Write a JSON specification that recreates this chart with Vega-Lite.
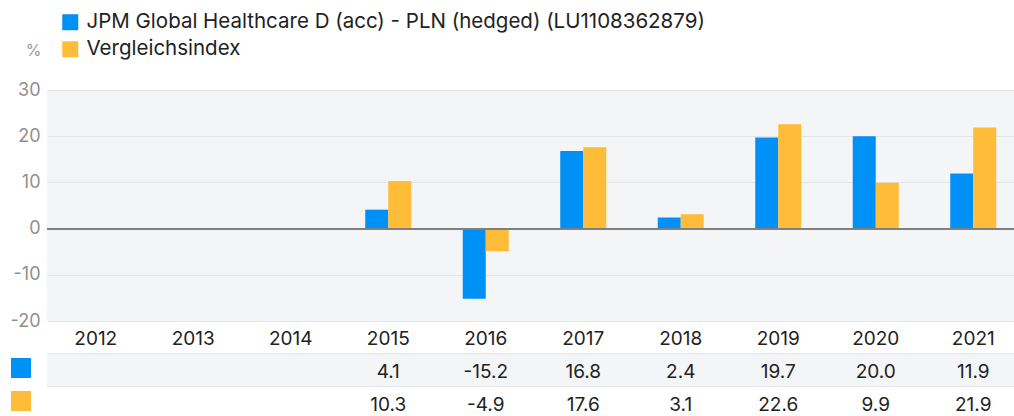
{
  "$schema": "https://vega.github.io/schema/vega-lite/v6.json",
  "autosize": {"type": "pad"},
  "padding": {"left": 9, "top": 12, "right": 0, "bottom": 0},
  "background": "white",
  "spacing": 0,
  "bounds": "flush",
  "config": {
    "font": "Inter",
    "view": {"stroke": null},
    "locale": {"number": {"decimal": ".", "thousands": ",", "grouping": [3], "currency": ["", ""], "minus": "-"}}
  },
  "datasets": {
    "returns": [
      {"year": 2012, "series": "JPM Global Healthcare D (acc) - PLN (hedged) (LU1108362879)", "value": null},
      {"year": 2012, "series": "Vergleichsindex", "value": null},
      {"year": 2013, "series": "JPM Global Healthcare D (acc) - PLN (hedged) (LU1108362879)", "value": null},
      {"year": 2013, "series": "Vergleichsindex", "value": null},
      {"year": 2014, "series": "JPM Global Healthcare D (acc) - PLN (hedged) (LU1108362879)", "value": null},
      {"year": 2014, "series": "Vergleichsindex", "value": null},
      {"year": 2015, "series": "JPM Global Healthcare D (acc) - PLN (hedged) (LU1108362879)", "value": 4.1},
      {"year": 2015, "series": "Vergleichsindex", "value": 10.3},
      {"year": 2016, "series": "JPM Global Healthcare D (acc) - PLN (hedged) (LU1108362879)", "value": -15.2},
      {"year": 2016, "series": "Vergleichsindex", "value": -4.9},
      {"year": 2017, "series": "JPM Global Healthcare D (acc) - PLN (hedged) (LU1108362879)", "value": 16.8},
      {"year": 2017, "series": "Vergleichsindex", "value": 17.6},
      {"year": 2018, "series": "JPM Global Healthcare D (acc) - PLN (hedged) (LU1108362879)", "value": 2.4},
      {"year": 2018, "series": "Vergleichsindex", "value": 3.1},
      {"year": 2019, "series": "JPM Global Healthcare D (acc) - PLN (hedged) (LU1108362879)", "value": 19.7},
      {"year": 2019, "series": "Vergleichsindex", "value": 22.6},
      {"year": 2020, "series": "JPM Global Healthcare D (acc) - PLN (hedged) (LU1108362879)", "value": 20.0},
      {"year": 2020, "series": "Vergleichsindex", "value": 9.9},
      {"year": 2021, "series": "JPM Global Healthcare D (acc) - PLN (hedged) (LU1108362879)", "value": 11.9},
      {"year": 2021, "series": "Vergleichsindex", "value": 21.9}
    ],
    "rows": [
      {"row": "JPM Global Healthcare D (acc) - PLN (hedged) (LU1108362879)"},
      {"row": "Vergleichsindex"}
    ]
  },
  "resolve": {"scale": {"color": "independent", "y": "independent"}, "legend": {"color": "independent"}},
  "vconcat": [
    {
      "width": 967,
      "height": 231,
      "data": {"name": "returns"},
      "view": {"fill": "#f4f5f7", "stroke": null},
      "layer": [
        {
          "mark": {"type": "bar"},
          "encoding": {
            "x": {"field": "year", "type": "ordinal", "scale": {"domain": [2012, 2013, 2014, 2015, 2016, 2017, 2018, 2019, 2020, 2021], "range": [0, 975], "paddingInner": 0.528, "paddingOuter": 0.264}, "axis": null},
            "xOffset": {"field": "series", "type": "nominal", "scale": {"domain": ["JPM Global Healthcare D (acc) - PLN (hedged) (LU1108362879)", "Vergleichsindex"]}},
            "y": {"field": "value", "type": "quantitative", "scale": {"domain": [-20, 30], "nice": false},
              "axis": {"values": [-20, -10, 0, 10, 20, 30], "title": "%", "titleAngle": 0, "titleX": -14, "titleY": -40, "titleAlign": "center", "titleBaseline": "middle", "titleFontSize": 16, "titleFontWeight": "normal", "titleColor": "#999999", "labelColor": "#8f8f8f", "labelFontSize": 18, "labelPadding": 7, "ticks": false, "domain": false, "gridColor": "#e3e5e8", "gridWidth": 1}},
            "color": {"field": "series", "type": "nominal",
              "scale": {"domain": ["JPM Global Healthcare D (acc) - PLN (hedged) (LU1108362879)", "Vergleichsindex"], "range": ["#0091f7", "#ffbc38"]},
              "legend": {"orient": "none", "legendX": 13, "legendY": -78, "title": null, "symbolType": "square", "symbolSize": 256, "symbolStrokeWidth": 0, "labelFontSize": 20.5, "labelColor": "#222222", "labelOffset": 6, "rowPadding": 6, "labelLimit": 900}}
          }
        },
        {"mark": {"type": "rule", "color": "#808080", "strokeWidth": 1.3}, "encoding": {"y": {"datum": 0}}}
      ]
    },
    {
      "width": 967,
      "height": 95,
      "layer": [
        {
          "data": {"name": "rows"},
          "transform": [{"filter": "datum.row == 'JPM Global Healthcare D (acc) - PLN (hedged) (LU1108362879)'"}],
          "mark": {"type": "rect", "color": "#f4f5f7"},
          "encoding": {
            "y": {"field": "row", "type": "nominal", "scale": {"domain": ["year", "JPM Global Healthcare D (acc) - PLN (hedged) (LU1108362879)", "Vergleichsindex"], "range": [0, 98], "paddingInner": 0, "paddingOuter": 0}, "axis": null}
          }
        },
        {
          "data": {"name": "rows"},
          "mark": {"type": "rule", "color": "#e3e5e8", "strokeWidth": 1},
          "encoding": {
            "y": {"field": "row", "type": "nominal", "bandPosition": 0}
          }
        },
        {
          "data": {"name": "returns"},
          "transform": [{"filter": "datum.series == 'Vergleichsindex'"}],
          "mark": {"type": "text", "fontSize": 19, "color": "#222222", "baseline": "middle", "dy": 2},
          "encoding": {
            "x": {"field": "year", "type": "ordinal", "scale": {"domain": [2012, 2013, 2014, 2015, 2016, 2017, 2018, 2019, 2020, 2021], "range": [0, 975], "paddingInner": 0.528, "paddingOuter": 0.264}, "axis": null},
            "y": {"datum": "year", "type": "nominal"},
            "text": {"field": "year", "type": "ordinal"}
          }
        },
        {
          "data": {"name": "returns"},
          "transform": [{"filter": "datum.value != null"}],
          "mark": {"type": "text", "fontSize": 19, "color": "#222222", "baseline": "middle", "dy": 2},
          "encoding": {
            "x": {"field": "year", "type": "ordinal"},
            "y": {"field": "series", "type": "nominal"},
            "text": {"field": "value", "type": "quantitative", "format": ".1f"}
          }
        },
        {
          "data": {"name": "returns"},
          "transform": [{"filter": "datum.value != null"}],
          "mark": {"type": "point", "filled": true, "shape": "square", "opacity": 0},
          "encoding": {
            "x": {"field": "year", "type": "ordinal"},
            "y": {"field": "series", "type": "nominal"},
            "color": {"field": "series", "type": "nominal",
              "scale": {"domain": ["JPM Global Healthcare D (acc) - PLN (hedged) (LU1108362879)", "Vergleichsindex"], "range": ["#0091f7", "#ffbc38"]},
              "legend": {"orient": "none", "legendX": -36, "legendY": 37, "title": null, "symbolType": "square", "symbolSize": 400, "symbolOpacity": 1, "symbolStrokeWidth": 0, "labelExpr": "''", "labelFontSize": 1, "rowPadding": 13}}
          }
        }
      ]
    }
  ]
}
